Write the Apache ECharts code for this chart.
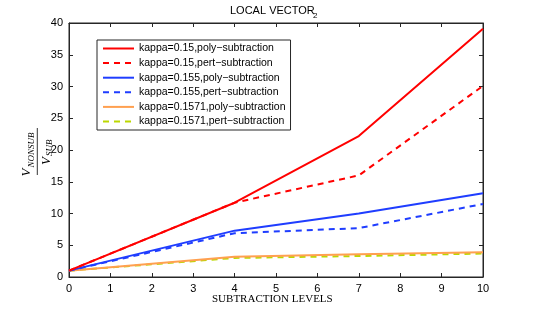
<!DOCTYPE html>
<html>
<head>
<meta charset="utf-8">
<script src="https://cdn.jsdelivr.net/npm/echarts@6/dist/echarts.min.js"></script>
<style>html,body{margin:0;padding:0;background:#fff}#c{width:533px;height:312px}</style>
</head>
<body>
<div id="c"></div>
<script>
const levels = [0, 4, 7, 10];
const seriesNames = [
  'kappa=0.15,poly\u2212subtraction',
  'kappa=0.15,pert\u2212subtraction',
  'kappa=0.155,poly\u2212subtraction',
  'kappa=0.155,pert\u2212subtraction',
  'kappa=0.1571,poly\u2212subtraction',
  'kappa=0.1571,pert\u2212subtraction'
];
const k015poly = [1, 11.7, 22.2, 39.1];
const k015pert = [1, 11.7, 16.0, 30.1];
const k0155poly = [1, 7.3, 10.0, 13.2];
const k0155pert = [1, 6.9, 7.7, 11.5];
const k01571poly = [1, 3.2, 3.6, 3.9];
const k01571pert = [1, 3.0, 3.3, 3.7];
const xTicks = [0, 1, 2, 3, 4, 5, 6, 7, 8, 9, 10];
const yTicks = [0, 5, 10, 15, 20, 25, 30, 35, 40];

const allValues = [k015poly, k015pert, k0155poly, k0155pert, k01571poly, k01571pert];
const colors = ['#ff0000', '#ff0000', '#1f3dff', '#1f3dff', '#ffa050', '#bcd800'];
const dashed = [false, true, false, true, false, true];

const sans = 'Liberation Sans, Arial, sans-serif';
const serif = 'Liberation Serif, Times New Roman, serif';

const chart = echarts.init(document.getElementById('c'));
const axisLine = { show: true, onZero: false, lineStyle: { color: '#262626', width: 1 } };
const axisTick = { show: true, inside: true, length: 4, lineStyle: { color: '#262626' } };

const series = allValues.map((vals, i) => ({
  name: seriesNames[i],
  type: 'line',
  symbol: 'none',
  data: levels.map((x, j) => [x, vals[j]]),
  itemStyle: { color: colors[i] },
  lineStyle: { color: colors[i], width: 2, type: dashed[i] ? [6, 5] : 'solid' },
  z: 10 - i
}));
// empty helper series so the top and right frame axes are drawn
series.push({ name: 'frame', type: 'line', xAxisIndex: 1, yAxisIndex: 1, data: [], symbol: 'none', silent: true });

function t(x, y, text, font, va) {
  return { type: 'text', x, y, style: { text, font, fill: '#000', align: 'left', verticalAlign: va } };
}

chart.setOption({
  animation: false,
  grid: { left: 69, right: 50, top: 23, bottom: 35, show: true, borderColor: '#262626', borderWidth: 1, backgroundColor: 'transparent' },
  legend: {
    orient: 'vertical', left: 97, top: 40,
    data: seriesNames,
    itemWidth: 31, itemHeight: 11, itemGap: 3.6,
    padding: [3, 5, 3, 5],
    borderColor: '#262626', borderWidth: 1, backgroundColor: '#fff',
    itemStyle: { opacity: 0 },
    textStyle: { fontFamily: sans, fontSize: 10.5, color: '#000' }
  },
  xAxis: [
    { type: 'value', min: 0, max: 10, interval: 1, position: 'bottom',
      axisLine, axisTick, splitLine: { show: false },
      axisLabel: { fontFamily: sans, fontSize: 11, color: '#000', margin: 6,
        formatter: v => xTicks.includes(v) ? String(v) : '' } },
    { type: 'value', min: 0, max: 10, interval: 1, position: 'top',
      axisLine, axisTick, splitLine: { show: false }, axisLabel: { show: false } }
  ],
  yAxis: [
    { type: 'value', min: 0, max: 40, interval: 5, position: 'left',
      axisLine, axisTick, splitLine: { show: false },
      axisLabel: { fontFamily: sans, fontSize: 11, color: '#000', margin: 6,
        formatter: v => yTicks.includes(v) ? String(v) : '' } },
    { type: 'value', min: 0, max: 40, interval: 5, position: 'right',
      axisLine, axisTick, splitLine: { show: false }, axisLabel: { show: false } }
  ],
  series,
  graphic: [
    { type: 'text', left: 230, top: 5, style: { text: 'LOCAL VECTOR', font: '11px ' + sans, fill: '#000' } },
    { type: 'text', left: 313, top: 12, style: { text: '2', font: '8px ' + sans, fill: '#000' } },
    { type: 'text', left: 212, top: 294, style: { text: 'SUBTRACTION LEVELS', font: '11px ' + serif, fill: '#000' } },
    {
      type: 'group', x: 37.3, y: 151.5, rotation: Math.PI / 2,
      children: [
        t(-25, -4, 'V', 'italic 13px ' + serif, 'bottom'),
        t(-16, -1, 'NONSUB', 'italic 9px ' + serif, 'bottom'),
        { type: 'line', shape: { x1: -23.5, y1: 0, x2: 23.5, y2: 0 }, style: { stroke: '#000', lineWidth: 0.8 } },
        t(-13.5, 3, 'V', 'italic 13px ' + serif, 'top'),
        t(-4.5, 8, 'SUB', 'italic 9px ' + serif, 'top')
      ]
    }
  ]
});
</script>
</body>
</html>
